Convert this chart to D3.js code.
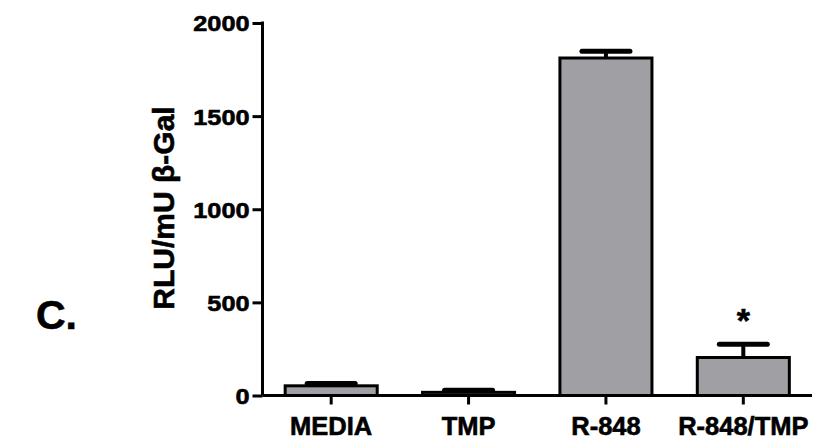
<!DOCTYPE html>
<html><head><meta charset="utf-8">
<script src="https://cdn.jsdelivr.net/npm/d3@7"></script>
<style>body{margin:0;background:#fff}svg{display:block}text{font-family:"Liberation Sans",Arial,sans-serif;font-weight:bold;fill:#000;stroke:#000;stroke-width:0.6px}</style>
</head><body><svg id="c" width="816" height="447"></svg>
<script>
const categories = ["MEDIA", "TMP", "R-848", "R-848/TMP"];
const means = [52, 17, 1812, 204];
const sems = [13, 11, 36, 71];
const significant = [false, false, false, true];
const yTicks = [0, 500, 1000, 1500, 2000];
const yLabel = "RLU/mU \u03b2-Gal";
const panel = "C.";

const svg = d3.select("#c");
const y = d3.scaleLinear().domain([0, 2000]).range([395.5, 23]);
const x = d3.scaleBand().domain(categories).range([262.5, 812]).paddingInner(0.33).paddingOuter(0.165);

// bars
svg.selectAll("rect.bar").data(categories).enter().append("rect")
  .attr("x", d => x(d)).attr("width", x.bandwidth())
  .attr("y", (d,i) => y(means[i])).attr("height", (d,i) => y(0) - y(means[i]))
  .attr("fill", "#a09fa4").attr("stroke", "#000").attr("stroke-width", 3);

// error bars
const cw = 48;
categories.forEach((c,i) => {
  const cx = x(c) + x.bandwidth()/2;
  svg.append("line").attr("x1", cx).attr("x2", cx).attr("y1", y(means[i])).attr("y2", y(means[i]+sems[i]))
    .attr("stroke", "#000").attr("stroke-width", 4);
  svg.append("line").attr("x1", cx - cw/2).attr("x2", cx + cw/2).attr("y1", y(means[i]+sems[i])).attr("y2", y(means[i]+sems[i]))
    .attr("stroke", "#000").attr("stroke-width", 5).attr("stroke-linecap", "round");
  if (significant[i]) {
    svg.append("text").attr("x", cx).attr("y", y(means[i]+sems[i]) - 12).attr("text-anchor", "middle")
      .style("font-size", "34px").text("*");
  }
});

// y axis
const ya = svg.append("g").attr("transform", "translate(262.5,0)")
  .call(d3.axisLeft(y).tickValues(yTicks).tickSize(10).tickPadding(4).tickFormat(d3.format("d")));
ya.select(".domain").attr("stroke-width", 3).attr("d", `M0,${y(2000)-1.5}V${y(0)}`);
ya.selectAll(".tick line").attr("stroke-width", 3);
ya.selectAll(".tick text").style("font-size", "22px").style("font-family", "'Liberation Sans',Arial,sans-serif").style("font-weight", "bold")
  .attr("dy", "0.36em").attr("transform", "scale(1.15,1)").attr("x", -13/1.15);

// x axis
const xa = svg.append("g").attr("transform", `translate(0,${y(0)})`)
  .call(d3.axisBottom(x).tickSize(9).tickPadding(8));
xa.select(".domain").attr("stroke-width", 3).attr("d", `M262.5,0H812`);
xa.selectAll(".tick line").attr("stroke-width", 3);
xa.selectAll(".tick text").style("font-size", "25.5px").style("font-family", "'Liberation Sans',Arial,sans-serif").style("font-weight", "bold").attr("dy", "0.9em");

// y label
svg.append("text").attr("transform", "translate(174,208) rotate(-90)").attr("text-anchor", "middle")
  .style("font-size", "30px").text(yLabel);

// panel label
svg.append("text").attr("x", 36).attr("y", 329).style("font-size", "41px").text(panel);
</script></body></html>
